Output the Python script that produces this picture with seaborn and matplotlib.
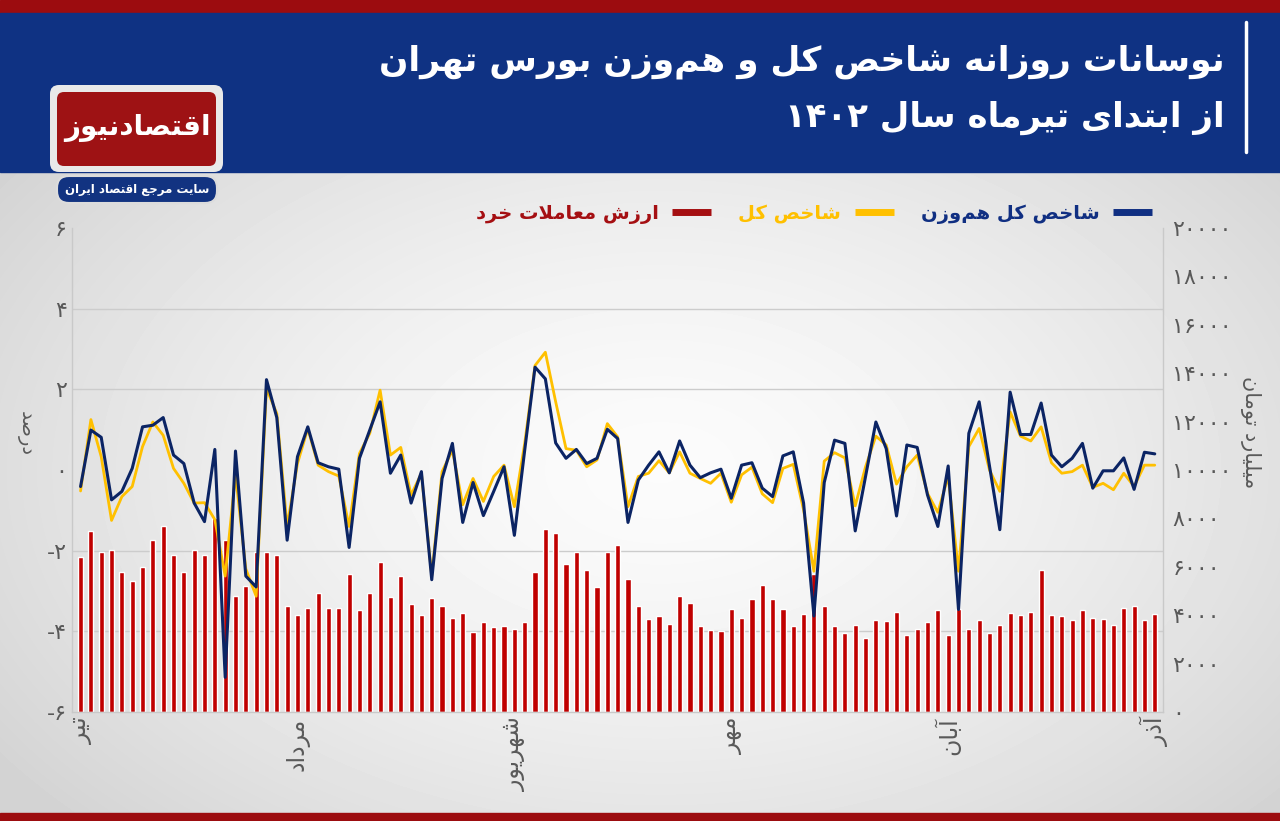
import re
import numpy as np
import pandas as pd
import matplotlib
matplotlib.use("Agg")
import matplotlib.pyplot as plt
from matplotlib.lines import Line2D
from matplotlib.patches import Rectangle, FancyBboxPatch
import seaborn as sns

# --- data ---
months = ['تیر', 'مرداد', 'شهریور', 'مهر', 'آبان', 'آذر']
month_pos = [0, 21, 42, 63, 84, 104]

# retail trading value (billion toman), right axis
retail_value = [
    6400, 7500, 6600, 6700, 5800, 5400, 6000, 7100, 7700, 6500, 5800, 6700, 6500, 8000,
    7100, 4800, 5200, 6600, 6600, 6500, 4400, 4000, 4300, 4900, 4300, 4300, 5700, 4200,
    4900, 6200, 4750, 5600, 4450, 4000, 4700, 4400, 3900, 4100, 3300, 3700, 3500, 3550,
    3450, 3700, 5800, 7550, 7400, 6100, 6600, 5850, 5150, 6600, 6900, 5500, 4400,
    3850, 3950, 3650, 4800, 4500, 3550, 3400, 3350, 4250, 3900, 4650, 5250, 4650, 4250,
    3550, 4050, 5700, 4400, 3550, 3250, 3600, 3050, 3800, 3750, 4150, 3200, 3450,
    3700, 4200, 3200, 4250, 3450, 3800, 3250, 3600, 4100, 4000, 4150, 5850, 4000, 3950,
    3800, 4200, 3900, 3850, 3600, 4300, 4400, 3800, 4050,
]

# total index daily change (%), left axis
total_index = [
    -0.52, 1.25, 0.33, -1.25, -0.66, -0.41, 0.58, 1.19, 0.86, 0.04, -0.33, -0.82, -0.81, -1.23,
    -2.63, -0.10, -2.45, -3.13, 2.02, 1.40, -1.40, 0.16, 1.03, 0.12, -0.04, -0.15, -1.40,
    0.41, 0.91, 1.98, 0.37, 0.56, -0.62, -0.08, -2.63, -0.04, 0.49, -0.86, -0.21, -0.78,
    -0.16, 0.12, -0.91, 0.66, 2.59, 2.92, 1.69, 0.53, 0.49, 0.08, 0.25, 1.15, 0.82, -0.91, -0.16,
    -0.08, 0.23, -0.07, 0.45, -0.08, -0.21, -0.33, -0.08, -0.80, -0.12, 0.07, -0.59, -0.81,
    0.04, 0.14, -0.99, -2.51, 0.22, 0.43, 0.30, -0.89, 0.08, 0.84, 0.62, -0.35, 0.08, 0.37,
    -0.58, -1.05, -0.16, -2.51, 0.58, 1.03, 0.00, -0.53, 1.44, 0.84, 0.72, 1.07, 0.18, -0.08,
    -0.04, 0.12, -0.43, -0.33, -0.49, -0.08, -0.41, 0.12, 0.12,
]

# equal-weight index daily change (%), left axis
equal_index = [
    -0.41, 0.99, 0.81, -0.74, -0.53, 0.04, 1.07, 1.11, 1.30, 0.37, 0.16, -0.82, -1.28, 0.51,
    -5.14, 0.47, -2.63, -2.90, 2.24, 1.30, -1.74, 0.33, 1.07, 0.18, 0.08, 0.02, -1.92,
    0.29, 0.99, 1.69, -0.08, 0.37, -0.82, -0.04, -2.72, -0.21, 0.66, -1.30, -0.31, -1.13,
    -0.53, 0.08, -1.62, 0.49, 2.55, 2.26, 0.67, 0.29, 0.51, 0.16, 0.29, 1.01, 0.78, -1.30, -0.25,
    0.12, 0.45, -0.07, 0.72, 0.12, -0.19, -0.07, 0.02, -0.70, 0.12, 0.18, -0.45, -0.66,
    0.35, 0.45, -0.82, -3.62, -0.31, 0.74, 0.66, -1.51, -0.16, 1.19, 0.53, -1.14, 0.62, 0.56,
    -0.62, -1.40, 0.10, -3.46, 0.91, 1.69, 0.10, -1.48, 1.93, 0.88, 0.88, 1.66, 0.37, 0.08,
    0.29, 0.66, -0.45, -0.02, -0.02, 0.30, -0.48, 0.44, 0.40,
]

left_ticks = [-6, -4, -2, 0, 2, 4, 6]
right_ticks = list(range(0, 20001, 2000))

title_1 = 'نوسانات روزانه شاخص کل و هم\u200cوزن بورس تهران'
title_2 = 'از ابتدای تیرماه سال ۱۴۰۲'
label_equal = 'شاخص کل هم\u200cوزن'
label_total = 'شاخص کل'
label_retail = 'ارزش معاملات خرد'
ylabel_left = 'درصد'
ylabel_right = 'میلیارد تومان'
logo_name = 'اقتصادنیوز'
logo_sub = 'سایت مرجع اقتصاد ایران'

# --- small Persian shaper: presentation forms + right-to-left order ---
FORMS = {
    'ا': ('\uFE8D', '\uFE8E'), 'آ': ('\uFE81', '\uFE82'),
    'ب': ('\uFE8F', '\uFE90', '\uFE91', '\uFE92'), 'پ': ('\uFB56', '\uFB57', '\uFB58', '\uFB59'),
    'ت': ('\uFE95', '\uFE96', '\uFE97', '\uFE98'), 'ث': ('\uFE99', '\uFE9A', '\uFE9B', '\uFE9C'),
    'ج': ('\uFE9D', '\uFE9E', '\uFE9F', '\uFEA0'), 'چ': ('\uFB7A', '\uFB7B', '\uFB7C', '\uFB7D'),
    'ح': ('\uFEA1', '\uFEA2', '\uFEA3', '\uFEA4'), 'خ': ('\uFEA5', '\uFEA6', '\uFEA7', '\uFEA8'),
    'د': ('\uFEA9', '\uFEAA'), 'ذ': ('\uFEAB', '\uFEAC'), 'ر': ('\uFEAD', '\uFEAE'),
    'ز': ('\uFEAF', '\uFEB0'), 'ژ': ('\uFB8A', '\uFB8B'),
    'س': ('\uFEB1', '\uFEB2', '\uFEB3', '\uFEB4'), 'ش': ('\uFEB5', '\uFEB6', '\uFEB7', '\uFEB8'),
    'ص': ('\uFEB9', '\uFEBA', '\uFEBB', '\uFEBC'), 'ض': ('\uFEBD', '\uFEBE', '\uFEBF', '\uFEC0'),
    'ط': ('\uFEC1', '\uFEC2', '\uFEC3', '\uFEC4'), 'ظ': ('\uFEC5', '\uFEC6', '\uFEC7', '\uFEC8'),
    'ع': ('\uFEC9', '\uFECA', '\uFECB', '\uFECC'), 'غ': ('\uFECD', '\uFECE', '\uFECF', '\uFED0'),
    'ف': ('\uFED1', '\uFED2', '\uFED3', '\uFED4'), 'ق': ('\uFED5', '\uFED6', '\uFED7', '\uFED8'),
    'ک': ('\uFB8E', '\uFB8F', '\uFB90', '\uFB91'), 'گ': ('\uFB92', '\uFB93', '\uFB94', '\uFB95'),
    'ل': ('\uFEDD', '\uFEDE', '\uFEDF', '\uFEE0'), 'م': ('\uFEE1', '\uFEE2', '\uFEE3', '\uFEE4'),
    'ن': ('\uFEE5', '\uFEE6', '\uFEE7', '\uFEE8'), 'ه': ('\uFEE9', '\uFEEA', '\uFEEB', '\uFEEC'),
    'و': ('\uFEED', '\uFEEE'), 'ی': ('\uFBFC', '\uFBFD', '\uFBFE', '\uFBFF'),
}


def dual(c):
    return c in FORMS and len(FORMS[c]) == 4


def fa(text):
    chars = list(text.replace('ك', 'ک').replace('ي', 'ی'))
    out, i, n = [], 0, len(chars)
    while i < n:
        c = chars[i]
        if c not in FORMS:
            if c != '\u200c':
                out.append(c)
            i += 1
            continue
        prev_joins = i > 0 and dual(chars[i - 1])
        if c == 'ل' and i + 1 < n and chars[i + 1] in 'اآ':
            lig = ('\uFEFB', '\uFEFC') if chars[i + 1] == 'ا' else ('\uFEF5', '\uFEF6')
            out.append(lig[1] if prev_joins else lig[0])
            i += 2
            continue
        next_joins = dual(c) and i + 1 < n and chars[i + 1] in FORMS
        f = FORMS[c]
        if prev_joins and next_joins:
            out.append(f[3])
        elif prev_joins:
            out.append(f[1])
        elif next_joins:
            out.append(f[2])
        else:
            out.append(f[0])
        i += 1
    s = ''.join(out[::-1])
    return re.sub('[0-9\u06F0-\u06F9]+', lambda m: m.group(0)[::-1], s)


def fa_num(v):
    return str(v).translate(str.maketrans('0123456789', '۰۱۲۳۴۵۶۷۸۹'))


df = pd.DataFrame({
    'day': np.arange(len(retail_value)),
    'retail': retail_value,
    'total': total_index,
    'equal': equal_index,
})

sns.set_style('white')
plt.rcParams['font.family'] = ['DejaVu Sans']

W, H = 1280, 821
fig = plt.figure(figsize=(12.8, 8.21), dpi=100)

# --- background, header and logo (pixel coordinates) ---
bg = fig.add_axes([0, 0, 1, 1], zorder=-10)
bg.set_xlim(0, W)
bg.set_ylim(H, 0)
bg.axis('off')
yy, xx = np.mgrid[0:H, 0:W]
r = np.sqrt(((xx - 660) / 820) ** 2 + ((yy - 470) / 520) ** 2)
shade = 0.985 - 0.16 * np.clip(r, 0, 1) ** 1.5
bg.imshow(shade, cmap='gray', vmin=0, vmax=1, extent=[0, W, H, 0], aspect='auto')
bg.add_patch(Rectangle((0, 0), W, 13, color='#9c0c0f'))
bg.add_patch(Rectangle((0, 13), W, 159, color='#0f3283'))
bg.add_patch(Rectangle((0, 813), W, 8, color='#9c0c0f'))
bg.plot([1246, 1246], [22, 152], color='white', lw=2.5)
bg.add_patch(FancyBboxPatch((50, 85), 173, 87, boxstyle='round,pad=0,rounding_size=9',
                            fc='#e9e9e9', ec='none'))
bg.add_patch(FancyBboxPatch((57, 92), 159, 74, boxstyle='round,pad=0,rounding_size=7',
                            fc='#9e1214', ec='none'))
bg.add_patch(FancyBboxPatch((57, 176), 160, 27, boxstyle='round,pad=0,rounding_size=12',
                            fc='#123381', ec='#dcdcdc', lw=1.5))
bg.text(137, 128, fa(logo_name), color='white', fontsize=20, fontweight='bold',
        ha='center', va='center')
bg.text(137, 189, fa(logo_sub), color='white', fontsize=8.5, fontweight='bold',
        ha='center', va='center')

# titles
fig.text(1225 / W, 1 - 62 / H, fa(title_1), color='white', fontsize=24.8, fontweight='bold',
         ha='right', va='center')
fig.text(1225 / W, 1 - 118 / H, fa(title_2), color='white', fontsize=24.5, fontweight='bold',
         ha='right', va='center')

# --- chart ---
ax = fig.add_axes([72.3 / W, 1 - 712 / H, (1162.5 - 72.3) / W, (712 - 228) / H])
ax.set_facecolor('none')
sns.barplot(data=df, x='day', y='retail', ax=ax, color='#c00000', width=0.5,
            native_scale=True, saturation=1, errorbar=None)
ax.set_ylim(0, 20000)
ax.set_yticks(right_ticks)
ax.set_yticklabels([fa_num(v) for v in right_ticks])
grid_vals = [(p - left_ticks[0]) / (left_ticks[-1] - left_ticks[0]) * 20000 for p in left_ticks[1:-1]]
ax.set_yticks(grid_vals, minor=True)
ax.yaxis.grid(True, which='minor', color='#cccccc', lw=1)
ax.set_axisbelow(True)

ax2 = ax.twinx()
sns.lineplot(data=df, x='day', y='total', ax=ax2, color='#ffc000', linewidth=2)
sns.lineplot(data=df, x='day', y='equal', ax=ax2, color='#0b2464', linewidth=2.2)
ax2.set_ylim(-6, 6)
ax2.set_yticks(left_ticks)
ax2.set_yticklabels([fa_num(v) for v in left_ticks])
ax2.yaxis.tick_left()
ax.yaxis.tick_right()

ax.set_xlim(-0.8, 104.75)
ax.set_xticks(month_pos)
ax.set_xticklabels([fa(m) for m in months], rotation=90, va='top', ha='center')

for a in (ax, ax2):
    a.set_xlabel('')
    a.set_ylabel('')
    a.tick_params(which='both', length=0, labelsize=16, labelcolor='#595959')
for s in ax2.spines.values():
    s.set_visible(False)
ax.spines['top'].set_visible(False)
for k in ('left', 'right', 'bottom'):
    ax.spines[k].set_color('#c9c9c9')
    ax.spines[k].set_linewidth(1)
ax.tick_params(axis='y', pad=7)
ax2.tick_params(axis='y', pad=4)
ax.tick_params(axis='x', pad=4, labelsize=17)

fig.text(25 / W, 1 - 433 / H, fa(ylabel_left), rotation=270, color='#595959', fontsize=14,
         ha='center', va='center')
fig.text(1251 / W, 1 - 432 / H, fa(ylabel_right), rotation=270, color='#595959', fontsize=15,
         ha='center', va='center')

# legend (right to left: equal, total, retail)
handles = [Line2D([], [], color='#a50f12', lw=5, solid_capstyle='butt'),
           Line2D([], [], color='#ffc000', lw=5, solid_capstyle='butt'),
           Line2D([], [], color='#102f82', lw=5, solid_capstyle='butt')]
labels = [fa(label_retail), fa(label_total), fa(label_equal)]
leg = fig.legend(handles, labels, ncol=3, markerfirst=False, frameon=False,
                 loc='center', bbox_to_anchor=(814 / W, 1 - 214 / H),
                 prop={'size': 14, 'weight': 'bold'}, handlelength=2.0,
                 handletextpad=0.7, columnspacing=1.4)
for t, c in zip(leg.get_texts(), ['#a50f12', '#ffc000', '#102f82']):
    t.set_color(c)

fig.savefig('out.png', dpi=100)
